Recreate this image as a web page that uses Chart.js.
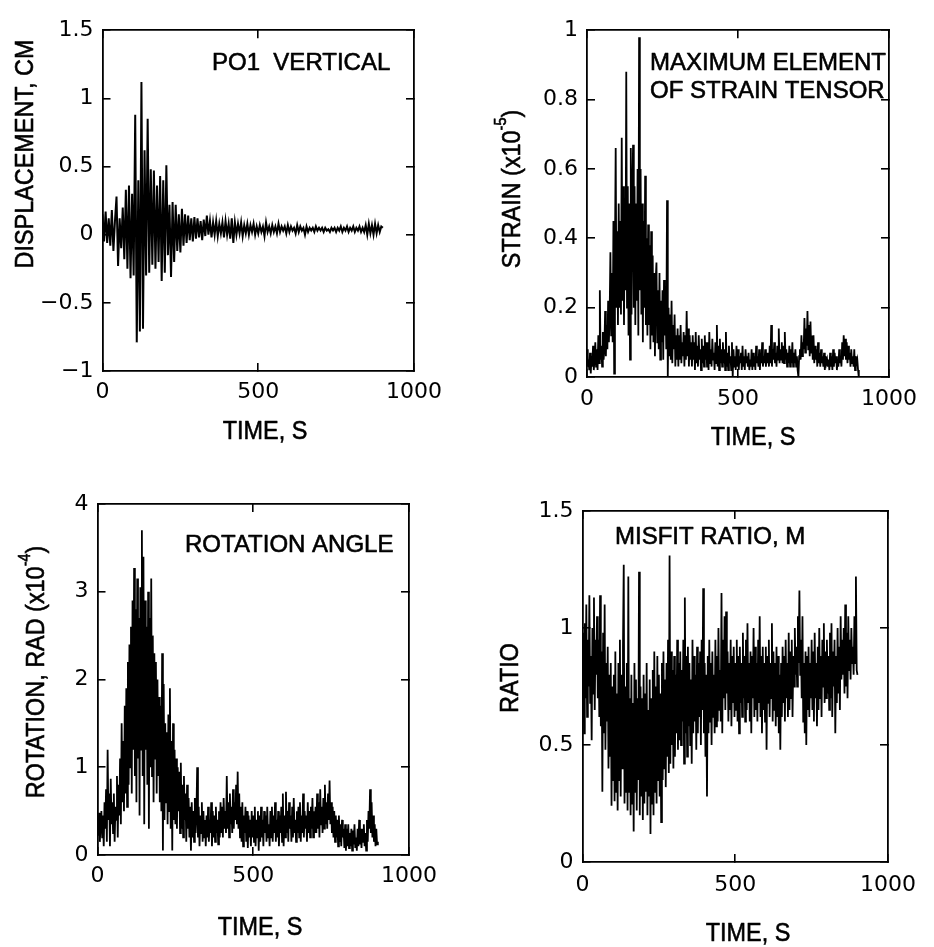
<!DOCTYPE html>
<html>
<head>
<meta charset="utf-8">
<script src="https://cdn.jsdelivr.net/npm/chart.js@4.4.0/dist/chart.umd.min.js"></script>
<style>
html,body{margin:0;padding:0;background:#fff;width:934px;height:947px;overflow:hidden;}
canvas{position:absolute;left:0;top:0;}
</style>
</head>
<body>
<canvas id="c1" width="934" height="947"></canvas>
<canvas id="c2" width="934" height="947"></canvas>
<canvas id="c3" width="934" height="947"></canvas>
<canvas id="c4" width="934" height="947"></canvas>
<script>
// ---------------- data (t = 0 ... 900 s, uniformly sampled) ----------------
const DISP_STEP = 5;      // s, displacement samples
const DENSE_STEP = 2.5;   // s, strain / rotation / misfit samples
const timeTicks = [0, 500, 1000];

const displacement = [
 0.15,-0.05,0.17,-0.06,0.12,-0.08,0.18,-0.12,0.10,0.28,
 -0.23,0.12,-0.10,0.20,-0.18,0.33,-0.25,0.36,-0.32,0.30,
 -0.30,0.88,-0.79,0.40,-0.71,1.12,-0.69,0.62,-0.30,0.85,
 -0.28,0.48,-0.22,0.47,-0.25,0.36,-0.20,0.43,-0.34,0.40,
 -0.28,0.51,-0.15,0.22,-0.31,0.24,-0.20,0.22,-0.12,0.15,
 -0.13,0.19,-0.08,0.15,-0.06,0.14,-0.04,0.12,-0.05,0.13,
 -0.03,0.12,-0.02,0.10,-0.04,0.11,-0.01,0.14,0.00,0.10,
 -0.02,0.09,0.00,0.10,-0.01,0.08,0.01,0.09,-0.02,0.10,
 0.00,0.08,-0.03,0.12,-0.06,0.09,0.00,0.08,0.01,0.09,
 -0.01,0.07,0.01,0.08,0.00,0.07,0.02,0.08,0.00,0.06,
 0.01,0.07,0.02,0.06,-0.01,0.09,0.02,0.06,0.01,0.07,
 0.02,0.06,0.01,0.08,0.02,0.06,0.03,0.06,0.01,0.07,
 0.02,0.06,0.03,0.05,0.01,0.07,0.02,0.06,0.03,0.05,
 0.00,0.06,0.02,0.05,0.03,0.05,0.02,0.06,0.03,0.05,
 0.03,0.05,0.02,0.05,0.03,0.04,0.02,0.05,0.03,0.05,
 0.02,0.05,0.03,0.06,0.02,0.05,0.03,0.06,0.02,0.05,
 0.03,0.06,0.02,0.05,0.03,0.06,0.02,0.05,0.02,0.07,
 0.00,0.08,0.01,0.07,0.00,0.08,0.01,0.07,0.02,0.06,
 0.05
];
const displacementTicks = [-1, -0.5, 0, 0.5, 1, 1.5];

const strain = [
 0.08,0.03,0.05,0.02,0.07,0.01,0.06,0.03,0.09,0.02,0.05,0.10,0.03,0.08,0.02,0.12,0.04,0.25,0.05,0.09,
 0.03,0.13,0.05,0.08,0.19,0.06,0.15,0.08,0.22,0.10,0.18,0.36,0.12,0.30,0.10,0.45,0.01,0.35,0.66,0.20,
 0.42,0.15,0.50,0.20,0.45,0.18,0.69,0.22,0.55,0.15,0.48,0.25,0.88,0.20,0.55,0.12,0.50,0.05,0.66,0.18,
 0.52,0.67,0.20,0.55,0.15,0.50,0.22,0.60,0.12,0.98,0.25,0.60,0.18,0.50,0.10,0.45,0.20,0.58,0.15,0.40,
 0.12,0.44,0.15,0.38,0.08,0.42,0.12,0.35,0.10,0.30,0.06,0.28,0.33,0.10,0.25,0.08,0.30,0.05,0.22,0.10,
 0.25,0.05,0.28,0.12,0.22,0.08,0.51,0.00,0.20,0.06,0.18,0.05,0.22,0.04,0.15,0.08,0.18,0.03,0.12,0.05,
 0.14,0.03,0.12,0.05,0.15,0.04,0.10,0.06,0.13,0.03,0.12,0.05,0.19,0.06,0.14,0.03,0.12,0.05,0.10,0.03,
 0.12,0.05,0.10,0.02,0.13,0.04,0.09,0.03,0.12,0.05,0.08,0.02,0.11,0.04,0.09,0.03,0.12,0.05,0.10,0.03,
 0.10,0.02,0.13,0.04,0.08,0.03,0.11,0.05,0.07,0.02,0.10,0.04,0.15,0.03,0.09,0.02,0.11,0.04,0.08,0.03,
 0.10,0.04,0.08,0.02,0.13,0.03,0.07,0.02,0.09,0.04,0.06,0.02,0.10,0.00,0.08,0.03,0.06,0.02,0.09,0.03,
 0.08,0.02,0.06,0.04,0.07,0.02,0.09,0.03,0.06,0.02,0.08,0.04,0.06,0.03,0.07,0.02,0.05,0.03,0.08,0.02,
 0.07,0.03,0.06,0.02,0.09,0.04,0.06,0.03,0.08,0.02,0.07,0.04,0.10,0.03,0.06,0.04,0.08,0.03,0.07,0.04,
 0.07,0.03,0.09,0.04,0.15,0.03,0.08,0.05,0.10,0.04,0.07,0.03,0.09,0.05,0.14,0.04,0.08,0.05,0.10,0.04,
 0.09,0.04,0.13,0.05,0.08,0.03,0.07,0.04,0.09,0.03,0.08,0.04,0.10,0.03,0.07,0.04,0.08,0.03,0.06,0.02,
 0.00,0.06,0.08,0.05,0.12,0.06,0.10,0.08,0.17,0.07,0.14,0.09,0.19,0.08,0.15,0.06,0.16,0.07,0.12,0.05,
 0.12,0.04,0.09,0.05,0.08,0.03,0.10,0.04,0.07,0.03,0.08,0.04,0.06,0.03,0.07,0.02,0.06,0.04,0.05,0.03,
 0.05,0.02,0.07,0.03,0.06,0.02,0.08,0.03,0.07,0.04,0.06,0.02,0.05,0.03,0.08,0.04,0.06,0.03,0.10,0.05,
 0.12,0.06,0.11,0.05,0.10,0.04,0.09,0.05,0.07,0.03,0.08,0.04,0.06,0.03,0.08,0.02,0.06,0.04,0.05,0.02,
 0.00
];
const strainTicks = [0, 0.2, 0.4, 0.6, 0.8, 1];

const rotation = [
 0.40,0.22,0.48,0.15,0.35,0.50,0.20,0.45,0.10,0.60,0.30,0.75,0.15,1.20,0.40,0.70,0.10,0.87,0.35,0.60,
 0.25,0.70,0.15,0.55,0.40,0.90,0.20,0.80,0.45,1.10,0.35,1.50,0.60,1.30,0.50,1.70,0.70,1.90,0.55,2.20,
 0.80,2.40,1.00,2.60,0.70,2.90,1.20,3.27,0.90,2.80,0.60,3.15,1.10,2.70,0.45,3.05,1.20,3.70,0.90,3.40,
 0.35,2.90,1.20,2.60,0.80,3.00,0.30,2.70,1.00,3.15,0.90,2.50,0.60,2.30,1.10,2.20,0.70,2.00,0.90,1.80,
 0.60,1.70,0.50,2.30,0.05,1.95,0.40,1.50,0.60,1.40,0.35,1.60,0.50,1.90,0.30,1.30,0.05,1.50,0.40,1.20,
 0.35,1.10,0.30,1.00,0.50,0.95,0.25,1.05,0.30,0.80,0.20,0.90,0.40,0.70,0.15,0.80,0.30,0.65,0.20,0.55,
 0.05,0.60,0.20,0.50,0.15,0.65,0.25,0.45,1.00,0.20,0.55,0.10,0.45,0.25,0.60,0.15,0.50,0.20,0.40,0.10,
 0.45,0.20,0.55,0.15,0.40,0.25,0.60,0.10,0.50,0.20,0.45,0.15,0.55,0.25,0.40,0.12,0.50,0.20,0.60,0.25,
 0.55,0.20,0.65,0.30,0.50,0.25,0.90,0.30,0.60,0.20,0.70,0.35,0.55,0.25,0.75,0.30,0.60,0.40,0.80,0.35,
 0.95,0.30,0.70,0.20,0.55,0.15,0.60,0.10,0.45,0.25,0.55,0.15,0.50,0.08,0.45,0.20,0.40,0.10,0.50,0.20,
 0.45,0.15,0.55,0.10,0.40,0.20,0.50,0.05,0.45,0.15,0.55,0.20,0.40,0.10,0.50,0.25,0.45,0.15,0.55,0.20,
 0.35,0.10,0.50,0.20,0.55,0.15,0.45,0.25,0.60,0.15,0.40,0.20,0.50,0.10,0.45,0.25,0.55,0.15,0.70,0.10,
 0.45,0.20,0.72,0.25,0.50,0.15,0.60,0.30,0.45,0.15,0.55,0.20,0.65,0.25,0.40,0.15,0.50,0.25,0.55,0.20,
 0.60,0.15,0.45,0.25,0.70,0.20,0.50,0.30,0.45,0.15,0.60,0.25,0.50,0.20,0.55,0.30,0.65,0.20,0.50,0.25,
 0.55,0.25,0.70,0.30,0.60,0.20,0.75,0.35,0.55,0.25,0.65,0.30,0.80,0.35,0.60,0.30,0.70,0.40,0.85,0.35,
 0.60,0.25,0.55,0.20,0.50,0.15,0.45,0.20,0.40,0.10,0.45,0.15,0.35,0.10,0.40,0.20,0.30,0.08,0.35,0.05,
 0.30,0.10,0.35,0.08,0.25,0.10,0.30,0.05,0.28,0.12,0.35,0.08,0.20,0.05,0.30,0.10,0.40,0.12,0.30,0.08,
 0.30,0.15,0.35,0.10,0.25,0.05,0.40,0.15,0.50,0.30,0.75,0.25,0.60,0.20,0.45,0.15,0.35,0.10,0.30,0.12,
 0.15
];
const rotationTicks = [0, 1, 2, 3, 4];

const misfit = [
 0.60,0.98,0.55,1.02,0.70,1.10,0.62,0.95,0.75,1.14,0.68,0.88,0.52,1.00,0.72,1.13,0.65,0.95,0.80,1.05,
 0.70,0.95,0.62,1.14,0.58,0.90,0.30,0.98,0.55,1.10,0.48,0.85,0.60,0.92,0.40,0.80,0.45,0.85,0.24,0.75,
 0.35,0.80,0.26,0.90,0.30,0.72,0.22,0.85,0.35,0.95,0.28,0.80,0.40,0.92,1.27,0.25,0.75,0.30,0.85,0.22,
 1.22,0.30,0.70,0.20,0.80,0.25,0.68,0.13,0.85,0.30,0.78,0.22,0.70,0.35,1.24,0.20,0.75,0.28,0.70,0.18,
 0.80,0.25,0.72,0.30,0.85,0.20,0.65,0.28,0.78,0.12,0.70,0.25,0.82,0.20,0.90,0.30,0.75,0.25,0.88,0.35,
 0.80,0.28,0.72,0.17,0.85,0.35,0.90,0.40,0.78,0.32,0.85,0.45,0.95,0.38,1.31,0.42,0.90,0.50,0.82,0.40,
 0.88,0.45,0.80,0.55,0.95,0.48,0.85,0.52,0.90,0.50,0.82,0.60,0.95,0.42,1.13,0.55,0.88,0.45,0.92,0.58,
 0.85,0.50,0.78,0.42,0.95,0.55,0.88,0.60,0.80,0.48,0.92,0.55,0.85,0.62,0.90,0.50,0.95,0.65,1.17,0.55,
 0.85,0.45,0.80,0.28,0.88,0.55,0.95,0.60,0.85,0.50,0.90,0.62,0.80,0.55,0.95,0.58,0.88,0.60,1.00,0.65,
 0.82,0.60,1.15,0.55,0.95,0.70,1.05,0.65,1.07,0.72,0.90,0.60,0.85,0.65,0.95,0.58,0.88,0.68,0.92,0.62,
 0.85,0.65,0.95,0.60,0.88,0.55,0.92,0.68,0.85,0.62,0.98,0.70,0.88,0.60,0.95,0.65,1.02,0.68,0.85,0.60,
 0.90,0.55,0.88,0.70,1.00,0.62,0.92,0.65,0.85,0.60,0.95,0.68,1.05,0.62,0.88,0.55,0.92,0.65,0.85,0.60,
 0.92,0.48,0.88,0.68,0.95,0.62,0.85,0.70,1.02,0.60,0.90,0.65,0.85,0.58,0.92,0.62,0.88,0.55,0.80,0.48,
 0.85,0.62,0.92,0.68,0.88,0.60,0.95,0.70,0.85,0.62,0.98,0.65,0.90,0.70,0.95,0.62,0.88,0.75,1.00,0.80,
 0.92,0.75,1.05,0.85,1.16,0.80,0.95,0.70,1.05,0.60,0.85,0.55,0.90,0.50,0.88,0.65,0.92,0.62,0.85,0.70,
 0.95,0.65,0.90,0.60,0.98,0.70,0.85,0.58,0.92,0.65,1.00,0.70,0.88,0.62,0.95,0.75,1.02,0.68,0.90,0.70,
 0.95,0.72,0.88,0.65,0.98,0.70,1.02,0.62,0.90,0.75,0.95,0.55,0.88,0.68,1.00,0.72,0.92,0.65,1.05,0.78,
 0.95,0.80,1.00,0.72,1.10,0.75,0.98,0.70,1.05,0.82,0.95,0.78,1.00,0.85,0.92,0.80,1.05,0.85,1.22,0.82,
 0.80
];
const misfitTicks = [0, 0.5, 1, 1.5];

// ---------------- layout / style ----------------
const W = 934, H = 947;
const INK = '#000000';
const TITLE_FONT = '"Liberation Sans", Arial, Helvetica, sans-serif';
const TICK_FONT = { family: '"DejaVu Sans", Verdana, sans-serif', size: 22 };

const panels = [
  { id: 'c1', values: displacement, step: DISP_STEP, yTicks: displacementTicks, lineWidth: 2.0,
    area: { left: 102.5, top: 21, right: 414, bottom: 371 }, xPad: 16,
    texts: [
      { parts: [{ t: 'PO1  VERTICAL' }], x: 212, y: 70, align: 'left', size: 24 },
      { parts: [{ t: 'TIME, S' }], x: 265, y: 439, align: 'center', size: 26, sx: 0.9 },
      { parts: [{ t: 'DISPLACEMENT, CM' }], x: 33, y: 154, align: 'center', size: 26, sx: 0.9, rot: true }
    ] },
  { id: 'c2', values: strain, step: DENSE_STEP, yTicks: strainTicks, lineWidth: 1.8,
    area: { left: 587, top: 27, right: 900, bottom: 377 }, xPad: 17,
    texts: [
      { parts: [{ t: 'MAXIMUM ELEMENT' }], x: 650, y: 70, align: 'left', size: 24 },
      { parts: [{ t: 'OF STRAIN TENSOR' }], x: 650, y: 98, align: 'left', size: 24 },
      { parts: [{ t: 'TIME, S' }], x: 753, y: 445, align: 'center', size: 26, sx: 0.9 },
      { parts: [{ t: 'STRAIN (x10' }, { t: '-5', sup: true }, { t: ')' }], x: 520, y: 189, align: 'center', size: 26, sx: 0.9, rot: true }
    ] },
  { id: 'c3', values: rotation, step: DENSE_STEP, yTicks: rotationTicks, lineWidth: 1.8,
    area: { left: 97.5, top: 504, right: 409, bottom: 855 }, xPad: 16,
    texts: [
      { parts: [{ t: 'ROTATION ANGLE' }], x: 185, y: 552, align: 'left', size: 24 },
      { parts: [{ t: 'TIME, S' }], x: 260, y: 935, align: 'center', size: 26, sx: 0.9 },
      { parts: [{ t: 'ROTATION, RAD (x10' }, { t: '-4', sup: true }, { t: ')' }], x: 44, y: 672, align: 'center', size: 26, sx: 0.9, rot: true }
    ] },
  { id: 'c4', values: misfit, step: DENSE_STEP, yTicks: misfitTicks, lineWidth: 1.8,
    area: { left: 582.5, top: 511, right: 896, bottom: 862 }, xPad: 18,
    texts: [
      { parts: [{ t: 'MISFIT RATIO, M' }], x: 615, y: 544, align: 'left', size: 24 },
      { parts: [{ t: 'TIME, S' }], x: 748, y: 941, align: 'center', size: 26, sx: 0.9 },
      { parts: [{ t: 'RATIO' }], x: 518, y: 678, align: 'center', size: 26, sx: 0.9, rot: true }
    ] }
];

// draws the panel label and axis titles as canvas text
const panelTextPlugin = {
  id: 'panelText',
  afterDraw(chart, args, opts) {
    const ctx = chart.ctx;
    for (const item of opts.items || []) {
      const size = item.size, sx = item.sx || 1;
      const fontFor = sup => (sup ? Math.round(size * 0.62) : size) + 'px ' + TITLE_FONT;
      ctx.save();
      ctx.fillStyle = INK;
      ctx.strokeStyle = INK;
      ctx.lineWidth = 0.6;
      ctx.lineJoin = 'round';
      ctx.translate(item.x, item.y);
      if (item.rot) ctx.rotate(-Math.PI / 2);
      ctx.scale(sx, 1);
      ctx.textAlign = 'left';
      ctx.textBaseline = 'alphabetic';
      let total = 0;
      for (const p of item.parts) { ctx.font = fontFor(p.sup); total += ctx.measureText(p.t).width; }
      let x0 = item.align === 'left' ? 0 : (item.align === 'right' ? -total : -total / 2);
      for (const p of item.parts) {
        ctx.font = fontFor(p.sup);
        const yy = p.sup ? -size * 0.55 : 0;
        ctx.fillText(p.t, x0, yy);
        ctx.strokeText(p.t, x0, yy);
        x0 += ctx.measureText(p.t).width;
      }
      ctx.restore();
    }
  }
};

const fmt = v => String(Number(v.toFixed(3))).replace('-', '\u2212');

function axisCommon() {
  return {
    grid: { display: true, drawOnChartArea: false, drawTicks: true, tickLength: -8, color: INK, lineWidth: 1.6 },
    border: { display: true, color: INK, width: 1.8 }
  };
}

for (const p of panels) {
  const yMin = p.yTicks[0], yMax = p.yTicks[p.yTicks.length - 1];
  const setY = s => { s.ticks = p.yTicks.map(v => ({ value: v })); };
  const setX = s => { s.ticks = timeTicks.map(v => ({ value: v })); };
  new Chart(document.getElementById(p.id), {
    type: 'line',
    data: {
      datasets: [{
        data: p.values.map((v, i) => ({ x: i * p.step, y: v })),
        borderColor: INK, borderWidth: p.lineWidth, pointRadius: 0, tension: 0, fill: false,
        borderJoinStyle: 'miter'
      }]
    },
    options: {
      responsive: false, animation: false, devicePixelRatio: 1, events: [],
      layout: { padding: { left: 0, top: p.area.top, right: W - p.area.right, bottom: 0 } },
      plugins: { legend: { display: false }, tooltip: { enabled: false }, panelText: { items: p.texts } },
      scales: {
        x: Object.assign(axisCommon(), {
          type: 'linear', position: 'bottom', min: 0, max: 1000,
          afterBuildTicks: setX,
          ticks: { font: TICK_FONT, color: INK, padding: p.xPad, maxRotation: 0, autoSkip: false, callback: v => String(v) },
          afterFit: s => { s.height = H - p.area.bottom; }
        }),
        x2: Object.assign(axisCommon(), {
          type: 'linear', position: 'top', min: 0, max: 1000,
          afterBuildTicks: setX,
          ticks: { display: false },
          afterFit: s => { s.height = 0; }
        }),
        y: Object.assign(axisCommon(), {
          type: 'linear', position: 'left', min: yMin, max: yMax,
          afterBuildTicks: setY,
          ticks: { font: TICK_FONT, color: INK, padding: 17, autoSkip: false, callback: fmt },
          afterFit: s => { s.width = p.area.left; }
        }),
        y2: Object.assign(axisCommon(), {
          type: 'linear', position: 'right', min: yMin, max: yMax,
          afterBuildTicks: setY,
          ticks: { display: false },
          afterFit: s => { s.width = 0; }
        })
      }
    },
    plugins: [panelTextPlugin]
  });
}
</script>
</body>
</html>
